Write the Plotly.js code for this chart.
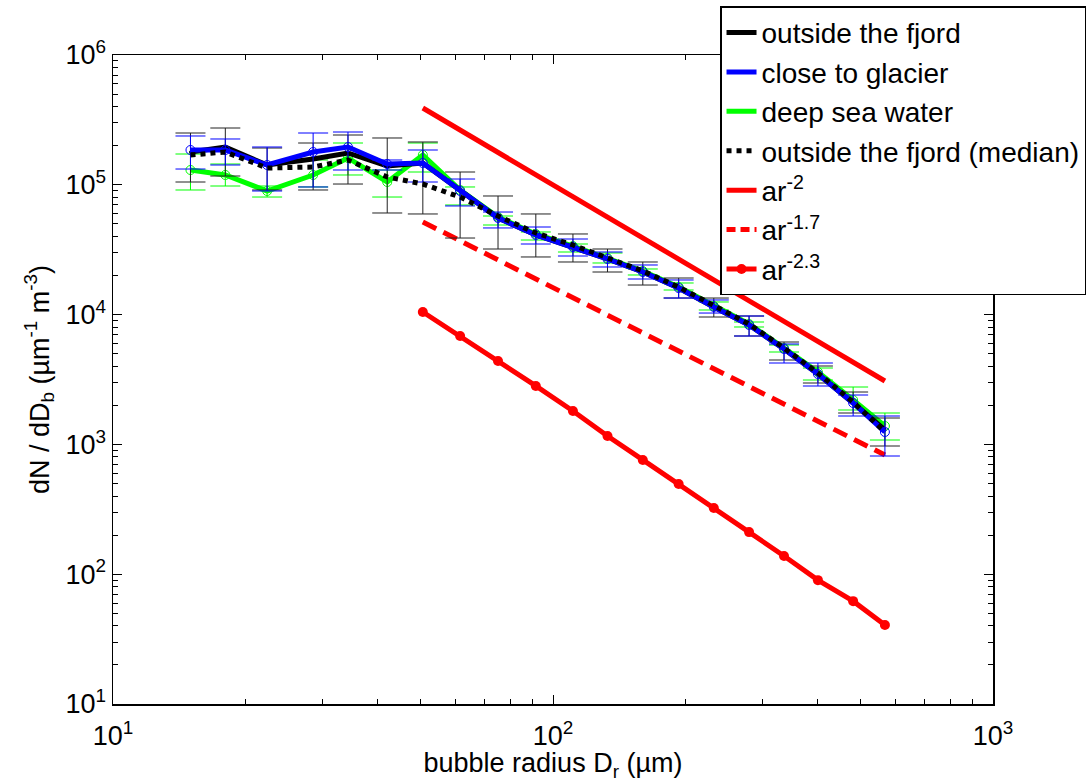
<!DOCTYPE html>
<html>
<head>
<meta charset="utf-8">
<script src="https://cdn.plot.ly/plotly-3.0.1.min.js"></script>
<style>html,body{margin:0;padding:0;background:#fff;}#chart{width:1089px;height:782px;}</style>
</head>
<body>
<div id="chart"></div>
<script>
// bubble radius (µm)
const radius = [15, 18, 22.4, 28.5, 34.2, 42, 50.6, 61.5, 75, 91.4, 111, 133, 160, 193, 232, 279, 335, 400, 481, 568];

// outside the fjord (mean) with error bar bounds
const outsideY  = [178900, 195500, 142100, 158000, 175800, 139600, 147200, 89600, 55500, 41050, 33180, 26820, 21290, 16020, 11450, 8317, 5433, 3486, 2084, 1291];
const outsideHi = [250600, 273900, 192100, 209900, 241900, 229400, 213700, 125500, 82000, 59600, 41800, 32020, 25430, 19140, 13420, 9754, 6150, 4018, 2533, 1597];
const outsideLo = [105100, 116900, 91200, 91200, 101400, 60650, 59600, 38900, 32020, 27790, 25430, 21290, 16900, 13420, 9583, 6841, 4469, 2972, 1745, 972];

// close to glacier
const glacierY  = [185400, 185400, 142100, 178900, 195500, 144600, 147200, 89600, 55500, 41050, 33180, 26820, 21290, 16020, 11450, 8317, 5433, 3486, 2084, 1246];
const glacierHi = [237700, 225400, 195500, 250600, 255100, 155300, 185400, 110800, 61700, 47300, 38230, 30360, 24110, 18480, 12960, 9754, 5935, 4237, 2402, 1655];
const glacierLo = [132300, 142100, 89600, 96200, 130000, 130000, 105100, 68700, 46500, 34990, 28280, 23270, 18800, 13420, 10280, 6841, 4237, 2818, 1655, 814];

// deep sea water
const deepY  = [130000, 119000, 89600, 119000, 160900, 105100, 169700, 91200, 56480, 41800, 33770, 27300, 21680, 16310, 11650, 8466, 5530, 3613, 2198, 1386];
const deepHi = [172700, 144600, 97900, 155300, 209900, 130000, 209900, 96200, 57500, 43300, 34990, 29830, 22460, 17520, 12510, 8770, 5831, 3878, 2768, 1745];
const deepLo = [91200, 97900, 80500, 96200, 119000, 80500, 125500, 69900, 49000, 37550, 30360, 24980, 20190, 15470, 10850, 8027, 5150, 3134, 1841, 1081];

// outside the fjord (median)
const medianY = [169700, 178900, 134700, 137100, 155300, 114900, 101400, 80500, 57500, 42550, 34380, 27300, 21680, 16310, 11650, 8466, 5530, 3549, 2121, 1246];

// reference power laws
const fitX = [50.6, 568];
const fit2Y = [390600, 3079];     // a r^-2
const fit17Y = [51700, 828];      // a r^-1.7
const fit23X = [50.6, 61.5, 75, 91.4, 111, 133, 160, 193, 232, 279, 335, 400, 481, 568];
const fit23Y = [10470, 6840, 4390, 2820, 1808, 1161, 759, 496, 324, 211, 138, 90, 62, 40.6]; // a r^-2.3

// legend labels
const labels = ['outside the fjord', 'close to glacier', 'deep sea water', 'outside the fjord (median)',
                'ar<sup>-2</sup>', 'ar<sup>-1.7</sup>', 'ar<sup>-2.3</sup>'];

function errs(y, hi, lo, color) {
  return {type: 'data', symmetric: false,
          array: y.map((v, i) => hi[i] - v),
          arrayminus: y.map((v, i) => v - lo[i]),
          color: color, thickness: 1, width: 15};
}

const LW = 5;
const traces = [
  {x: fitX, y: fit2Y, mode: 'lines', line: {color: '#ff0000', width: LW}, showlegend: false, hoverinfo: 'skip'},
  {x: fitX, y: fit17Y, mode: 'lines', line: {color: '#ff0000', width: LW, dash: '15px,8px'}, showlegend: false, hoverinfo: 'skip'},
  {x: fit23X, y: fit23Y, mode: 'lines+markers', line: {color: '#ff0000', width: LW},
   marker: {color: '#ff0000', size: 10, symbol: 'circle'}, showlegend: false, hoverinfo: 'skip'},
  {x: radius, y: deepY, mode: 'lines+markers', line: {color: '#00ff00', width: LW},
   marker: {symbol: 'circle-open', size: 9, color: '#00ff00', line: {width: 1}},
   error_y: errs(deepY, deepHi, deepLo, '#00ff00'), showlegend: false},
  {x: radius, y: outsideY, mode: 'lines+markers', line: {color: '#000000', width: LW},
   marker: {symbol: 'circle', size: 3, color: '#000000'},
   error_y: errs(outsideY, outsideHi, outsideLo, '#222222'), showlegend: false},
  {x: radius, y: glacierY, mode: 'lines+markers', line: {color: '#0000ff', width: LW},
   marker: {symbol: 'circle-open', size: 9, color: '#0000ff', line: {width: 1}},
   error_y: errs(glacierY, glacierHi, glacierLo, '#0000ff'), showlegend: false},
  {x: radius, y: medianY, mode: 'lines', line: {color: '#000000', width: LW, dash: 'dot'}, showlegend: false},
  // legend entries
  {x: [null], y: [null], mode: 'lines', name: labels[0], line: {color: '#000000', width: LW}},
  {x: [null], y: [null], mode: 'lines', name: labels[1], line: {color: '#0000ff', width: LW}},
  {x: [null], y: [null], mode: 'lines', name: labels[2], line: {color: '#00ff00', width: LW}},
  {x: [null], y: [null], mode: 'lines', name: labels[3], line: {color: '#000000', width: LW, dash: 'dot'}},
  {x: [null], y: [null], mode: 'lines', name: labels[4], line: {color: '#ff0000', width: LW}},
  {x: [null], y: [null], mode: 'lines', name: labels[5], line: {color: '#ff0000', width: LW, dash: '9px,5px'}},
  {x: [null], y: [null], mode: 'lines+markers', name: labels[6], line: {color: '#ff0000', width: LW},
   marker: {color: '#ff0000', size: 10}}
];

function minorVals(lo, hi) {
  const v = [];
  for (let e = lo; e < hi; e++) for (let m = 2; m <= 9; m++) v.push(m * Math.pow(10, e));
  return v;
}

const FONT = 'Liberation Sans, Arial, Helvetica, sans-serif';
const layout = {
  width: 1089, height: 782,
  margin: {l: 113, r: 96, t: 55, b: 78, autoexpand: false},
  paper_bgcolor: '#ffffff', plot_bgcolor: '#ffffff',
  font: {family: FONT, size: 27, color: '#000000'},
  showlegend: true,
  legend: {x: 0.6898, y: 1.075, xanchor: 'left', yanchor: 'top', bgcolor: '#ffffff',
           bordercolor: '#000000', borderwidth: 1.5, font: {family: FONT, size: 28, color: '#000'},
           tracegroupgap: 0, itemwidth: 30},
  xaxis: {
    type: 'log', range: [1, 3], showgrid: false, zeroline: false,
    showline: true, linecolor: '#000', linewidth: 1.5, mirror: 'ticks',
    ticks: 'inside', ticklen: 9, tickcolor: '#000', tickwidth: 1,
    tickmode: 'array', tickvals: [10, 100, 1000],
    ticktext: ['10<sup>1</sup>', '10<sup>2</sup>', '10<sup>3</sup>'],
    tickfont: {family: FONT, size: 27}, ticklabelstandoff: 7,
    minor: {tickmode: 'array', tickvals: minorVals(1, 3), ticks: 'inside', ticklen: 5, tickcolor: '#000', showgrid: false},
    title: {text: 'bubble radius D<sub>r</sub> (µm)', font: {family: FONT, size: 27}, standoff: 2}
  },
  yaxis: {
    type: 'log', range: [1, 6], showgrid: false, zeroline: false,
    showline: true, linecolor: '#000', linewidth: 1.5, mirror: 'ticks',
    ticks: 'inside', ticklen: 9, tickcolor: '#000', tickwidth: 1,
    tickmode: 'array', tickvals: [10, 100, 1000, 10000, 100000, 1000000],
    ticktext: ['10<sup>1</sup>', '10<sup>2</sup>', '10<sup>3</sup>', '10<sup>4</sup>', '10<sup>5</sup>', '10<sup>6</sup>'],
    tickfont: {family: FONT, size: 27},
    minor: {tickmode: 'array', tickvals: minorVals(1, 6), ticks: 'inside', ticklen: 5, tickcolor: '#000', showgrid: false},
    title: {text: 'dN / dD<sub>b</sub> (µm<sup>-1</sup> m<sup>-3</sup>)', font: {family: FONT, size: 27}, standoff: 8}
  }
};

Plotly.newPlot('chart', traces, layout, {displayModeBar: false, staticPlot: true});
</script>
</body>
</html>
